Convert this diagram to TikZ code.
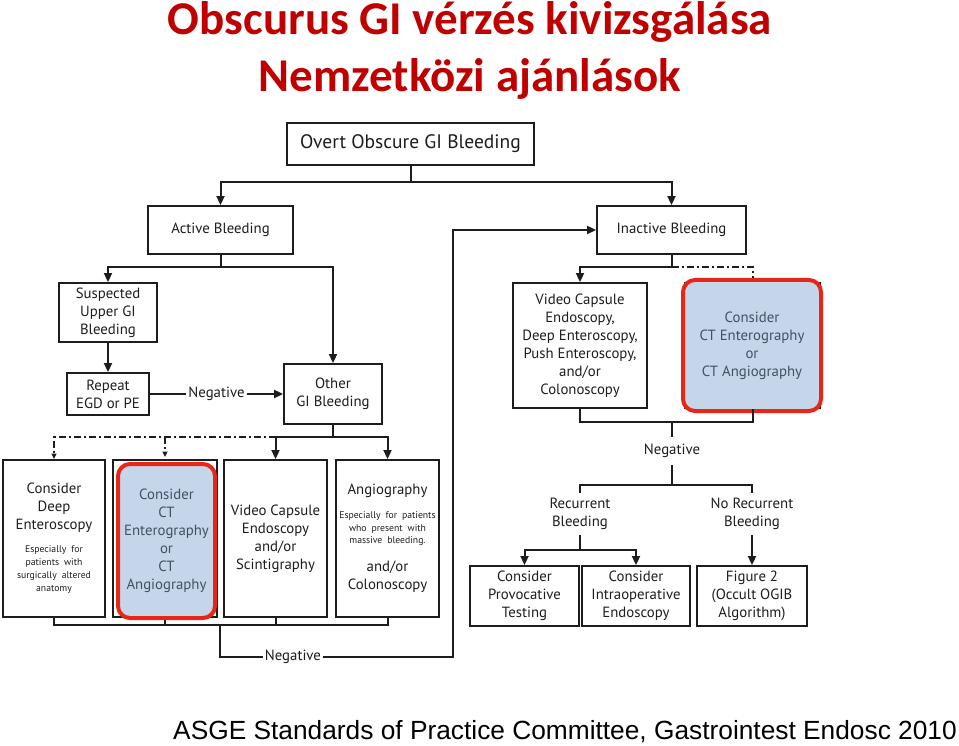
\documentclass[tikz,border=0pt]{standalone}
\usepackage{fontspec}
\setmainfont{PT Sans}
\newfontfamily\titlef{Carlito}
\newfontfamily\reff{Liberation Sans}
\usetikzlibrary{arrows.meta,calc}
\definecolor{titlered}{RGB}{192,0,0}
\definecolor{hlred}{RGB}{232,38,24}
\definecolor{hlblue}{RGB}{198,214,234}
\definecolor{hltext}{RGB}{66,80,100}
\definecolor{ink}{RGB}{30,28,28}
\begin{document}
\begin{tikzpicture}[x=1pt,y=-1pt,
  every node/.style={font=\fontsize{14.8}{18}\selectfont, text=ink},
  box/.style={draw=ink, line width=1.9pt, inner sep=0pt, align=center},
  ln/.style={draw=ink, line width=2pt},
  arr/.style={ln, -{Triangle[length=9pt,width=8pt]}},
  dd/.style={ln, dash pattern=on 7pt off 3pt on 2pt off 3pt},
  sarr/.style={-{Triangle[length=5.5pt,width=5pt]}},
  hl/.style={draw=hlred, line width=4pt, fill=hlblue, rounded corners=12pt, text=hltext, align=center, inner sep=0pt},
  lbl/.style={inner sep=0pt, align=center},
  neg/.style={fill=white, inner sep=2pt}
]
\useasboundingbox (0,0) rectangle (959,746);

% titles
\node[anchor=base, text=titlered, font=\titlef\bfseries\fontsize{47}{54}\selectfont] (t1) at (470,35) {Obscurus GI vérzés kivizsgálása};
\node[anchor=base, text=titlered, font=\titlef\bfseries\fontsize{47}{54}\selectfont] (t2) at (470,92) {Nemzetközi ajánlások};
\node[anchor=base, text=black, font=\reff\fontsize{26.3}{30}\selectfont] (ref) at (565,739) {ASGE Standards of Practice Committee, Gastrointest Endosc 2010};

% top level
\node[box, minimum width=247pt, minimum height=42pt, font=\fontsize{19.5}{23}\selectfont] (overt) at (410.5,144) {Overt Obscure GI Bleeding};
\node[box, minimum width=145pt, minimum height=48pt] (active) at (220.5,230) {Active Bleeding};
\node[box, minimum width=149pt, minimum height=48pt] (inactive) at (671.5,230) {Inactive Bleeding};

% left branch
\node[box, minimum width=98pt, minimum height=59pt] (susp) at (108,312.5) {Suspected\\Upper GI\\Bleeding};
\node[box, minimum width=82pt, minimum height=42pt] (repeat) at (108,394) {Repeat\\EGD or PE};
\node[box, minimum width=98pt, minimum height=60pt] (other) at (333,394) {Other\\GI Bleeding};

\node[box, minimum width=102pt, minimum height=157pt, text width=99pt] (deep) at (54,538.5)
  {Consider\\Deep\\Enteroscopy\par\vspace{10pt}{\fontsize{9.7}{13}\selectfont Especially for\\patients with\\surgically altered\\anatomy\par}};
\node[box, minimum width=104pt, minimum height=157pt] (ct1) at (165,538.5) {};
\node[box, minimum width=103pt, minimum height=157pt] (vce1) at (275.5,538.5) {Video Capsule\\Endoscopy\\and/or\\Scintigraphy};
\node[box, minimum width=103pt, minimum height=157pt, text width=102pt] (angio) at (387.5,538.5)
  {Angiography\par\vspace{12pt}{\fontsize{9.7}{12.5}\selectfont Especially for patients\\who present with\\massive bleeding.\par}\vspace{10pt}and/or\\Colonoscopy\par};

% right branch
\node[box, minimum width=134pt, minimum height=125pt] (vce2) at (580,345.5) {Video Capsule\\Endoscopy,\\Deep Enteroscopy,\\Push Enteroscopy,\\and/or\\Colonoscopy};
\node[box, minimum width=135pt, minimum height=125pt] (ct2) at (752.5,345.5) {};

\node[lbl, minimum height=28pt] (negR) at (672,451) {Negative};
\node[lbl, minimum height=42pt] (rec) at (580,514) {Recurrent\\Bleeding};
\node[lbl, minimum height=42pt] (norec) at (752,514) {No Recurrent\\Bleeding};

\node[box, minimum width=109pt, minimum height=60pt] (prov) at (524.5,596) {Consider\\Provocative\\Testing};
\node[box, minimum width=108pt, minimum height=60pt] (intra) at (636,596) {Consider\\Intraoperative\\Endoscopy};
\node[box, minimum width=110pt, minimum height=60pt] (fig2) at (752,596) {Figure 2\\(Occult OGIB\\Algorithm)};

% coordinates
\coordinate (j1) at (410.5,182);
\coordinate (j2) at (220.5,267);
\coordinate (j3) at (333,437);
\coordinate (j5) at (671.5,267);
\coordinate (j6) at (672,422);
\coordinate (j7) at (672,485);
\coordinate (j8) at (580,550);
\coordinate (lb) at (220,625);
\coordinate (lc) at (220,657);
\coordinate (ld) at (453,657);

% connectors top
\draw[ln] (overt.south) -- (j1);
\draw[arr] (j1) -| (active.north);
\draw[arr] (j1) -| (inactive.north);

\draw[ln] (active.south) -- (j2);
\draw[arr] (j2) -| (susp.north);
\draw[arr] (j2) -| (other.north);
\draw[arr] (susp.south) -- (repeat.north);
\draw[arr] (repeat.east) -- node[neg] {Negative} (other.west);

\draw[ln] (other.south) -- (j3);
\draw[arr] (j3) -| (vce1.north);
\draw[arr] (j3) -| (angio.north);
\draw[dd, sarr] (vce1.north |- j3) -| (deep.north);
\draw[dd, sarr] (ct1.north |- j3) -- ($(ct1.north)+(0,-2)$);

% bottom left collector
\draw[ln] (deep.south) -- (deep.south |- lb) -| (angio.south);
\draw[ln] (ct1.south) -- (ct1.south |- lb);
\draw[ln] (vce1.south) -- (vce1.south |- lb);
\draw[arr] (lb) -- (lc) -- node[neg, pos=0.313] {Negative} (ld) |- (inactive.west);

% right connectors
\draw[ln] (inactive.south) -- (j5);
\draw[arr] (j5) -| (vce2.north);
\draw[dd] (j5) -| (ct2.north);

% highlights
\node[hl, minimum width=97pt, minimum height=154pt] (ct1h) at (166.5,541) {Consider\\CT\\Enterography\\or\\CT\\Angiography};
\node[hl, minimum width=138pt, minimum height=131pt] (ct2h) at (752,345.5) {Consider\\CT Enterography\\or\\CT Angiography};

\draw[ln] (vce2.south) |- (j6) -| (ct2.south);
\draw[ln] (j6) -- (negR.north);
\draw[ln] (negR.south) -- (j7);
\draw[ln] (rec.north) |- (j7) -| (norec.north);
\draw[ln] (rec.south) -- (j8);
\draw[arr] (j8) -| (prov.north);
\draw[arr] (j8) -| (intra.north);
\draw[arr] (norec.south) -- (fig2.north);
\end{tikzpicture}
\end{document}
